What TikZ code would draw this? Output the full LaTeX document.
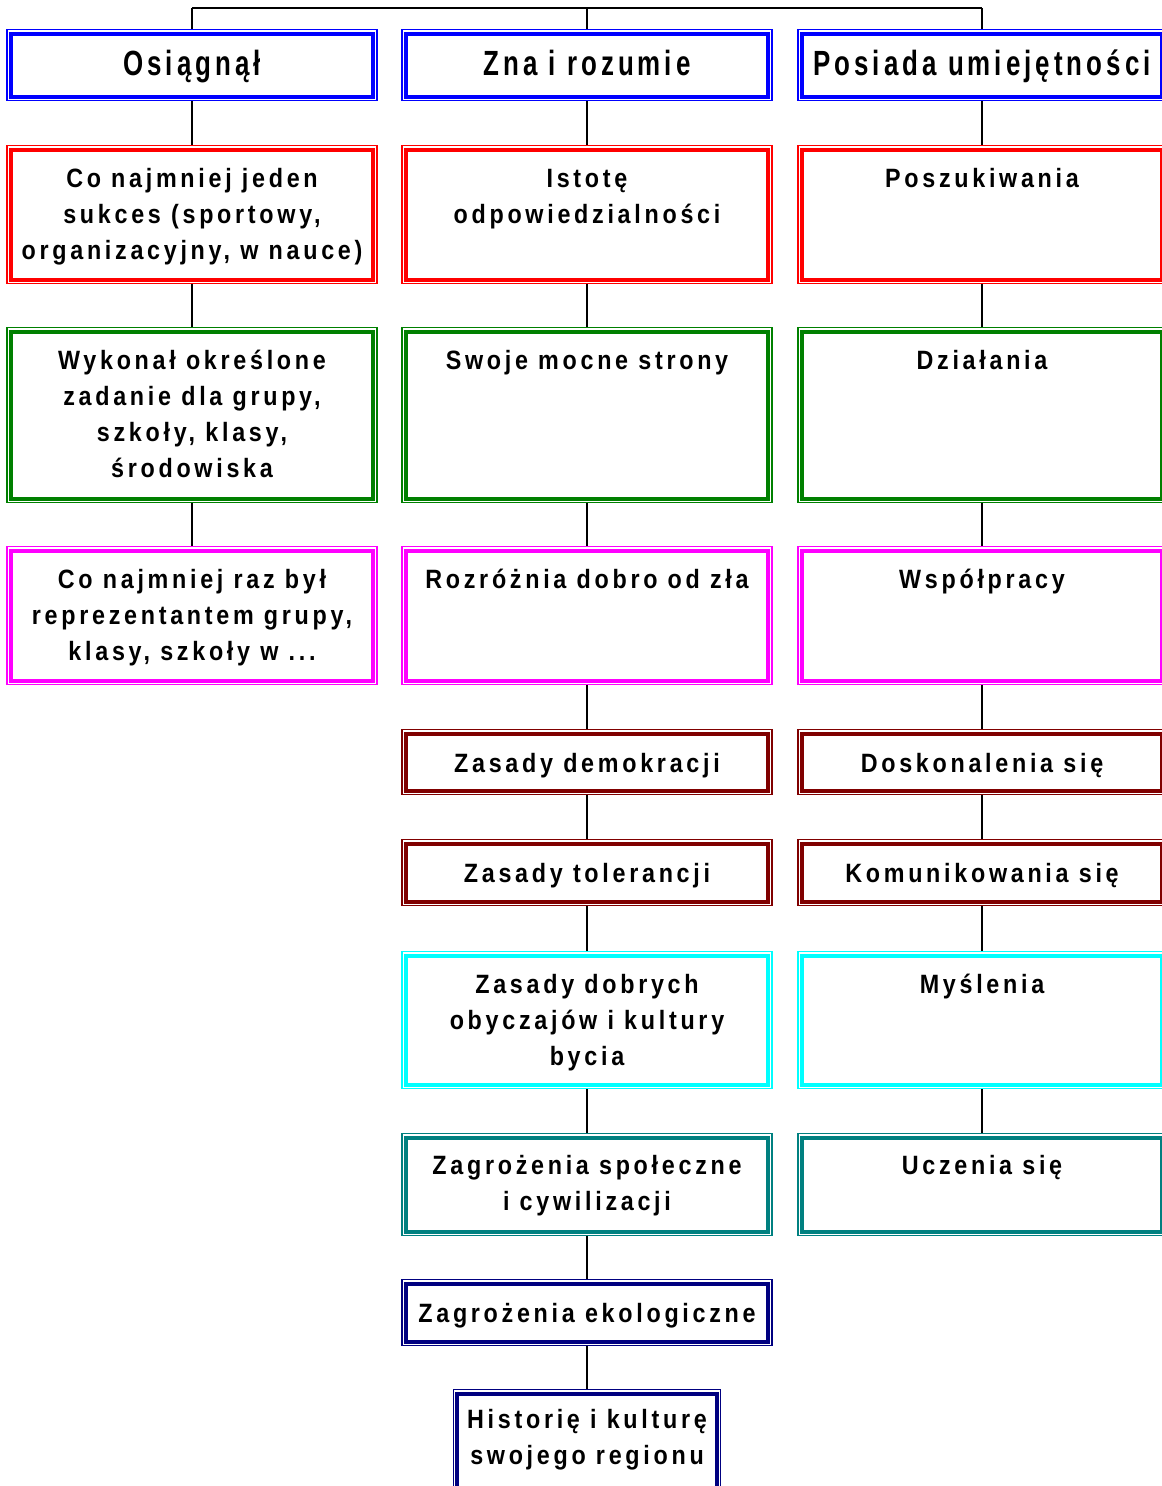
\documentclass[tikz,border=0pt]{standalone}
\usepackage{fontspec}
\newfontfamily\bodyf{Liberation Sans}[FakeStretch=0.88,LetterSpace=14]
\newfontfamily\headf{Liberation Sans}[FakeStretch=0.74,LetterSpace=11.5]
\definecolor{cBlue}{RGB}{0,0,255}
\definecolor{cRed}{RGB}{255,0,0}
\definecolor{cGreen}{RGB}{0,128,0}
\definecolor{cMag}{RGB}{255,0,255}
\definecolor{cMaroon}{RGB}{128,0,0}
\definecolor{cCyan}{RGB}{0,255,255}
\definecolor{cTeal}{RGB}{0,128,128}
\definecolor{cNavy}{RGB}{0,0,128}
\tikzset{
  boxouter/.style={rectangle, inner sep=0pt, line width=1.2pt},
  boxinner/.style={line width=4pt},
  conn/.style={line width=1.8pt, black},
  bodytxt/.style={font=\bodyf\bfseries\fontsize{26.5}{36}\selectfont, align=center, inner sep=0pt, anchor=base},
  headtxt/.style={font=\headf\bfseries\fontsize{35}{40}\selectfont, align=center, inner sep=0pt, anchor=base}
}
% name, colour, centre x, top y, bottom y, width
\newcommand{\dblbox}[6]{%
  \node[boxouter, draw=#2, minimum width=#6pt, minimum height={(#5-#4)*1pt}, anchor=north] (#1) at (#3,-#4) {};
  \draw[boxinner, #2] ([shift={(4.5,-4.5)}]#1.north west) rectangle ([shift={(-4.5,4.5)}]#1.south east);
}
\begin{document}
\begin{tikzpicture}[x=1pt,y=1pt]
\useasboundingbox[fill=white] (0,0) rectangle (1162,-1486);
% column 1
\dblbox{a1}{cBlue}{192}{29}{100}{370}
\dblbox{a2}{cRed}{192}{145}{283}{370}
\dblbox{a3}{cGreen}{192}{327}{502}{370}
\dblbox{a4}{cMag}{192}{546}{684}{370}
% column 2
\dblbox{b1}{cBlue}{587}{29}{100}{370}
\dblbox{b2}{cRed}{587}{145}{283}{370}
\dblbox{b3}{cGreen}{587}{327}{502}{370}
\dblbox{b4}{cMag}{587}{546}{684}{370}
\dblbox{b5}{cMaroon}{587}{729}{794}{370}
\dblbox{b6}{cMaroon}{587}{839}{905}{370}
\dblbox{b7}{cCyan}{587}{951}{1088}{370}
\dblbox{b8}{cTeal}{587}{1133}{1235}{370}
\dblbox{b9}{cNavy}{587}{1279}{1345}{370}
\dblbox{b10}{cNavy}{587}{1389}{1500}{267}
% column 3
\dblbox{c1}{cBlue}{982}{29}{100}{368}
\dblbox{c2}{cRed}{982}{145}{283}{368}
\dblbox{c3}{cGreen}{982}{327}{502}{368}
\dblbox{c4}{cMag}{982}{546}{684}{368}
\dblbox{c5}{cMaroon}{982}{729}{794}{368}
\dblbox{c6}{cMaroon}{982}{839}{905}{368}
\dblbox{c7}{cCyan}{982}{951}{1088}{368}
\dblbox{c8}{cTeal}{982}{1133}{1235}{368}
% texts (anchor = baseline of the last line)
\node[headtxt] (ta1) at ([yshift=-46]a1.north) {Osiągnął};
\node[headtxt] (tb1) at ([yshift=-46]b1.north) {Zna i rozumie};
\node[headtxt] (tc1) at ([yshift=-46]c1.north) {Posiada umiejętności};
\node[bodytxt] (ta2) at ([yshift=-114]a2.north) {Co najmniej jeden\\sukces (sportowy,\\organizacyjny, w nauce)};
\node[bodytxt] (ta3) at ([yshift=-150]a3.north) {Wykonał określone\\zadanie dla grupy,\\szkoły, klasy,\\środowiska};
\node[bodytxt] (ta4) at ([yshift=-114]a4.north) {Co najmniej raz był\\reprezentantem grupy,\\klasy, szkoły w ...};
\node[bodytxt] (tb2) at ([yshift=-78]b2.north) {Istotę\\odpowiedzialności};
\node[bodytxt] (tb3) at ([yshift=-42]b3.north) {Swoje mocne strony};
\node[bodytxt] (tb4) at ([yshift=-42]b4.north) {Rozróżnia dobro od zła};
\node[bodytxt] (tb5) at ([yshift=-43]b5.north) {Zasady demokracji};
\node[bodytxt] (tb6) at ([yshift=-43]b6.north) {Zasady tolerancji};
\node[bodytxt] (tb7) at ([yshift=-114]b7.north) {Zasady dobrych\\obyczajów i kultury\\bycia};
\node[bodytxt] (tb8) at ([yshift=-77]b8.north) {Zagrożenia społeczne\\i cywilizacji};
\node[bodytxt] (tb9) at ([yshift=-43]b9.north) {Zagrożenia ekologiczne};
\node[bodytxt] (tb10) at ([yshift=-75]b10.north) {Historię i kulturę\\swojego regionu};
\node[bodytxt] (tc2) at ([yshift=-42]c2.north) {Poszukiwania};
\node[bodytxt] (tc3) at ([yshift=-42]c3.north) {Działania};
\node[bodytxt] (tc4) at ([yshift=-42]c4.north) {Współpracy};
\node[bodytxt] (tc5) at ([yshift=-43]c5.north) {Doskonalenia się};
\node[bodytxt] (tc6) at ([yshift=-43]c6.north) {Komunikowania się};
\node[bodytxt] (tc7) at ([yshift=-42]c7.north) {Myślenia};
\node[bodytxt] (tc8) at ([yshift=-41]c8.north) {Uczenia się};
% connectors
\coordinate (busL) at (192,-8);
\coordinate (busM) at (587,-8);
\coordinate (busR) at (982,-8);
\draw[conn] (busL) -- (busR);
\draw[conn] (busL) -- (a1.north);
\draw[conn] (busM) -- (b1.north);
\draw[conn] (busR) -- (c1.north);
\draw[conn] (a1.south) -- (a2.north);
\draw[conn] (a2.south) -- (a3.north);
\draw[conn] (a3.south) -- (a4.north);
\draw[conn] (b1.south) -- (b2.north);
\draw[conn] (b2.south) -- (b3.north);
\draw[conn] (b3.south) -- (b4.north);
\draw[conn] (b4.south) -- (b5.north);
\draw[conn] (b5.south) -- (b6.north);
\draw[conn] (b6.south) -- (b7.north);
\draw[conn] (b7.south) -- (b8.north);
\draw[conn] (b8.south) -- (b9.north);
\draw[conn] (b9.south) -- (b10.north);
\draw[conn] (c1.south) -- (c2.north);
\draw[conn] (c2.south) -- (c3.north);
\draw[conn] (c3.south) -- (c4.north);
\draw[conn] (c4.south) -- (c5.north);
\draw[conn] (c5.south) -- (c6.north);
\draw[conn] (c6.south) -- (c7.north);
\draw[conn] (c7.south) -- (c8.north);
\end{tikzpicture}
\end{document}
